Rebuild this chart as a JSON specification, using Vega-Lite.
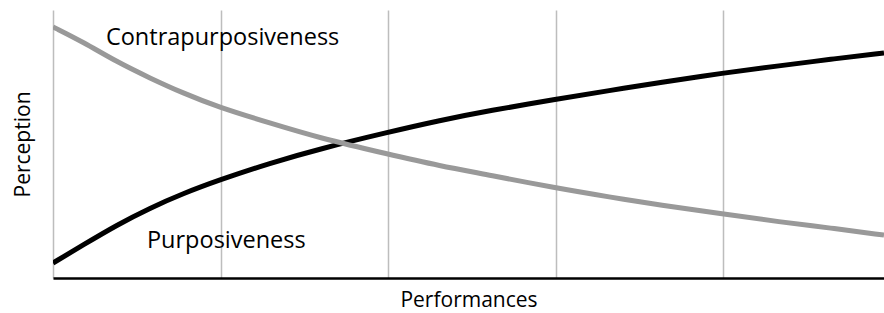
{
  "$schema": "https://vega.github.io/schema/vega-lite/v6.json",
  "width": 831,
  "height": 268,
  "padding": {"left": 53, "top": 10, "right": 0, "bottom": 35},
  "autosize": {"type": "none"},
  "config": {"view": {"stroke": null}, "font": "Open Sans"},
  "layer": [
    {
      "data": {"values": [
        {"series": "Purposiveness", "x": 0, "y": 5.6},
        {"series": "Purposiveness", "x": 0.179, "y": 12.3},
        {"series": "Purposiveness", "x": 0.382, "y": 19.8},
        {"series": "Purposiveness", "x": 0.579, "y": 26.1},
        {"series": "Purposiveness", "x": 0.776, "y": 31.5},
        {"series": "Purposiveness", "x": 0.985, "y": 36.4},
        {"series": "Purposiveness", "x": 1.296, "y": 42.9},
        {"series": "Purposiveness", "x": 1.594, "y": 48.2},
        {"series": "Purposiveness", "x": 1.994, "y": 54.3},
        {"series": "Purposiveness", "x": 2.31, "y": 58.8},
        {"series": "Purposiveness", "x": 2.609, "y": 62.5},
        {"series": "Purposiveness", "x": 2.997, "y": 66.6},
        {"series": "Purposiveness", "x": 3.325, "y": 70.0},
        {"series": "Purposiveness", "x": 3.624, "y": 72.9},
        {"series": "Purposiveness", "x": 4.0, "y": 76.5},
        {"series": "Purposiveness", "x": 4.34, "y": 79.2},
        {"series": "Purposiveness", "x": 4.639, "y": 81.6},
        {"series": "Purposiveness", "x": 4.961, "y": 84.0},
        {"series": "Contrapurposiveness", "x": 0, "y": 93.7},
        {"series": "Contrapurposiveness", "x": 0.179, "y": 88.1},
        {"series": "Contrapurposiveness", "x": 0.382, "y": 80.6},
        {"series": "Contrapurposiveness", "x": 0.579, "y": 74.6},
        {"series": "Contrapurposiveness", "x": 0.776, "y": 69.0},
        {"series": "Contrapurposiveness", "x": 0.985, "y": 63.8},
        {"series": "Contrapurposiveness", "x": 1.296, "y": 57.8},
        {"series": "Contrapurposiveness", "x": 1.594, "y": 52.2},
        {"series": "Contrapurposiveness", "x": 1.994, "y": 46.3},
        {"series": "Contrapurposiveness", "x": 2.31, "y": 41.8},
        {"series": "Contrapurposiveness", "x": 2.609, "y": 38.4},
        {"series": "Contrapurposiveness", "x": 2.997, "y": 33.6},
        {"series": "Contrapurposiveness", "x": 3.325, "y": 30.2},
        {"series": "Contrapurposiveness", "x": 3.624, "y": 27.2},
        {"series": "Contrapurposiveness", "x": 4.0, "y": 23.9},
        {"series": "Contrapurposiveness", "x": 4.34, "y": 20.9},
        {"series": "Contrapurposiveness", "x": 4.639, "y": 18.7},
        {"series": "Contrapurposiveness", "x": 4.961, "y": 16.0}
      ]},
      "mark": {"type": "line", "interpolate": "basis", "strokeWidth": 5, "clip": true},
      "encoding": {
        "x": {
          "field": "x", "type": "quantitative",
          "scale": {"domain": [0, 4.961], "nice": false, "zero": false},
          "axis": {
            "title": "Performances", "titleFontSize": 21, "titleFontWeight": "normal",
            "titleColor": "#000", "titlePadding": 11,
            "labels": false, "ticks": false,
            "values": [0, 1, 2, 3, 4],
            "grid": true, "gridColor": "#bdbdbd", "gridWidth": 1.5,
            "domainColor": "#000", "domainWidth": 2.5
          }
        },
        "y": {
          "field": "y", "type": "quantitative",
          "scale": {"domain": [0, 100], "nice": false},
          "axis": {
            "title": "Perception", "titleFontSize": 21, "titleFontWeight": "normal",
            "titleColor": "#000", "titlePadding": 20,
            "labels": false, "ticks": false, "grid": false, "domain": false
          }
        },
        "color": {
          "field": "series", "type": "nominal", "legend": null,
          "scale": {"domain": ["Purposiveness", "Contrapurposiveness"], "range": ["#000000", "#999999"]}
        }
      }
    },
    {
      "data": {"values": [
        {"label": "Contrapurposiveness", "x": 0.316, "y": 89.6},
        {"label": "Purposiveness", "x": 0.561, "y": 13.8}
      ]},
      "mark": {"type": "text", "align": "left", "baseline": "middle", "fontSize": 23.5, "color": "#000"},
      "encoding": {
        "x": {"field": "x", "type": "quantitative"},
        "y": {"field": "y", "type": "quantitative"},
        "text": {"field": "label"}
      }
    }
  ]
}
